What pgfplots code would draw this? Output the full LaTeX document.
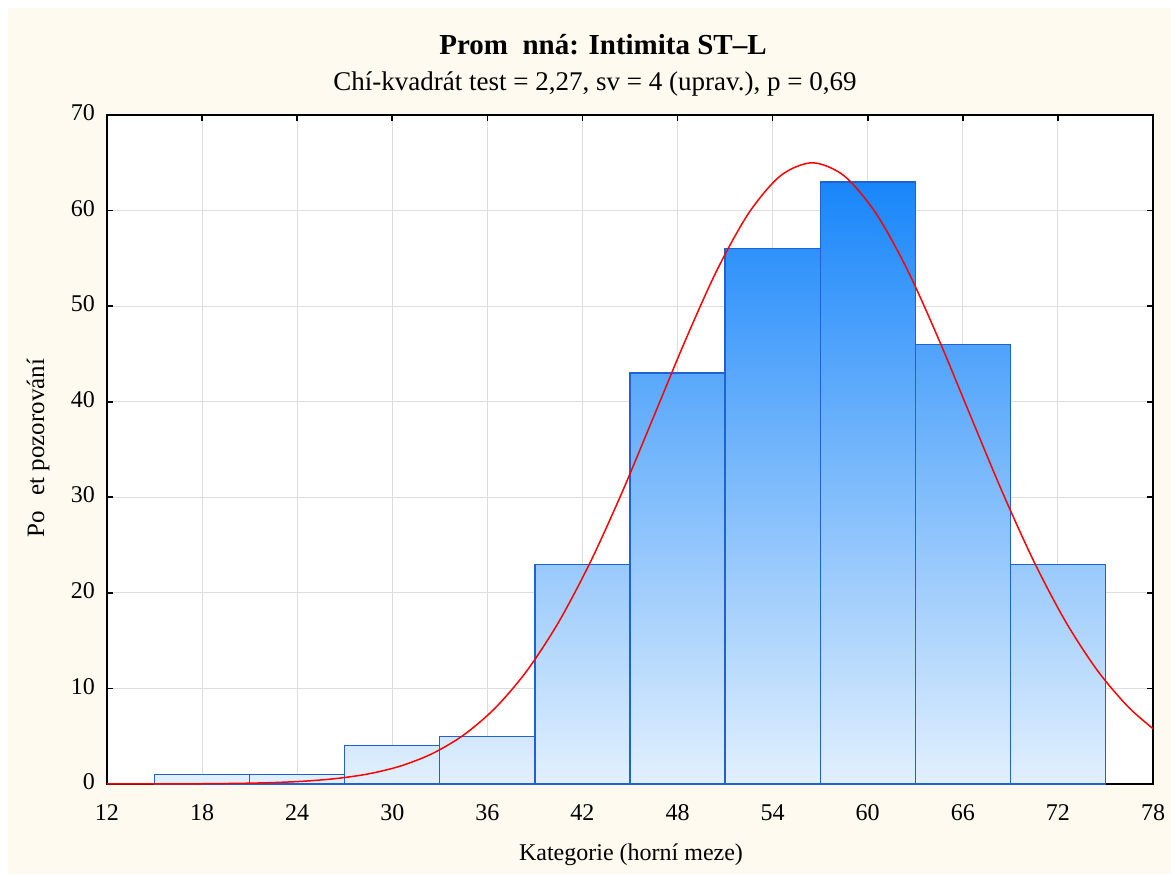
\documentclass[border=0pt]{standalone}
\usepackage{fontspec}
\setmainfont{Liberation Serif}
\usepackage{pgfplots}
\pgfplotsset{compat=1.18}

\definecolor{cream}{HTML}{FEFAEF}
\definecolor{barTop}{HTML}{1886FA}
\definecolor{barBot}{HTML}{E2F0FD}
\definecolor{barEdge}{HTML}{1E62D6}
\definecolor{gridgray}{HTML}{DDDDDD}

\begin{document}
\begin{tikzpicture}[x=0.5pt,y=0.5pt]
% page: 1171 x 874 px, 1 px = 0.5pt
\useasboundingbox (0,0) rectangle (1171,874);
\fill[white] (0,0) rectangle (1171,874);
\fill[cream] (8,0) rectangle (1171,866);

\begin{axis}[
    at={(53.5pt,45pt)}, anchor=south west,
    scale only axis,
    width=523pt, height=334.5pt,
    xmin=12, xmax=78, ymin=0, ymax=70,
    xtick={12,18,...,78},
    ytick={0,10,...,70},
    grid=major,
    grid style={gridgray, line width=0.5pt},
    tick align=inside,
    major tick length=3pt,
    tick style={black, line width=0.8pt},
    axis line style={black, line width=0.9pt},
    axis background/.style={fill=white},
    /pgf/number format/assume math mode=true,
    typeset ticklabels with strut,
    tick label style={font=\fontsize{12}{14}\selectfont},
    xticklabel style={yshift=-5pt},
    yticklabel style={xshift=-2.5pt},
]
% filled histogram, one shading over all bars
\addplot[const plot, draw=none, top color=barTop, bottom color=barBot]
    coordinates {(15,1) (21,1) (27,4) (33,5) (39,23) (45,43) (51,56) (57,63) (63,46) (69,23) (75,23)}
    \closedcycle;
% bar outlines
\addplot[ybar interval, draw=barEdge, fill=none, line width=0.6pt]
    coordinates {(15,1) (21,1) (27,4) (33,5) (39,23) (45,43) (51,56) (57,63) (63,46) (69,23) (75,23)};
% fitted normal curve
\addplot[red, line width=0.75pt, smooth]
    coordinates {(10.5,0.001) (12.5,0.0025) (14.5,0.006) (16.5,0.015) (18.5,0.033)
    (20.5,0.072) (22.5,0.15) (24.5,0.30) (26.5,0.58) (28.5,1.06) (30.5,1.87)
    (32.5,3.16) (34.5,5.12) (36.5,7.96) (38.5,11.86) (40.5,16.95) (42.5,23.23)
    (44.5,30.52) (46.5,38.46) (48.5,46.45) (50.5,53.81) (52.5,59.76) (54.5,63.65)
    (56.5,65) (58.5,63.65) (60.5,59.76) (62.5,53.81) (64.5,46.45) (66.5,38.46)
    (68.5,30.52) (70.5,23.23) (72.5,16.95) (74.5,11.86) (76.5,7.96) (78.5,5.12)};
\end{axis}

\node[font=\fontsize{14.5}{17}\selectfont\bfseries] at (603,829) {Prom\enspace nná: Intimita ST–L};
\node[font=\fontsize{13.5}{16}\selectfont] at (595,790) {Chí-kvadrát test = 2,27, sv = 4 (uprav.), p = 0,69};
\node[font=\fontsize{12}{14}\selectfont] at (631,19) {Kategorie (horní meze)};
\node[font=\fontsize{12.5}{14}\selectfont, rotate=90] at (38,426) {Po\hspace{0.6em}et pozorování};
\end{tikzpicture}
\end{document}
